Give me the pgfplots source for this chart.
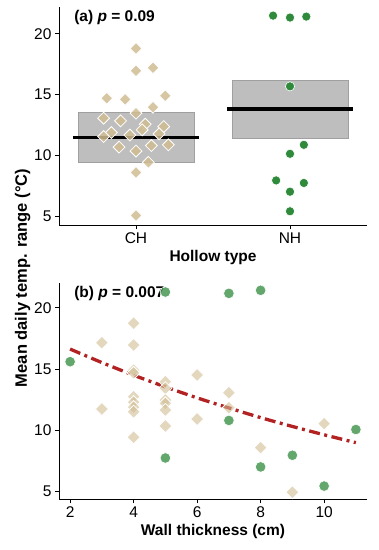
\documentclass[border=0pt]{standalone}
\usepackage{fontspec}
\setmainfont{Liberation Sans}
\usepackage{pgfplots}
\pgfplotsset{compat=1.18}
\definecolor{tanc}{RGB}{208,188,146}
\definecolor{grn}{RGB}{47,138,60}
\definecolor{boxg}{RGB}{190,190,190}
\definecolor{boxd}{RGB}{160,160,160}
\definecolor{trend}{RGB}{178,34,34}
\pgfplotsset{
  base/.style={
    scale only axis, width=308bp,
    axis x line*=bottom, axis y line*=left,
    axis line style={line width=1bp, black},
    tick align=outside, major tick length=4bp,
    tick style={black, line width=0.8bp},
    ticklabel style={font=\fontsize{15.5bp}{18bp}\selectfont},
    label style={font=\fontsize{15.5bp}{18bp}\selectfont\bfseries},
    /pgf/number format/assume math mode=true,
    ytick={5,10,15,20},
    clip=false,
  }
}
\begin{document}
\begin{tikzpicture}
\useasboundingbox (0,0) rectangle (379bp,-550bp);
% ---------- panel (a)
\begin{axis}[base, at={(59bp,-225bp)}, anchor=south west, height=218bp,
  xmin=0.5, xmax=2.5, ymin=4.26, ymax=22.2,
  xtick={1,2}, xticklabels={CH,NH}, xlabel={Hollow type}]
\addplot[fill=boxg, draw=boxd, line width=0.5bp] coordinates {(0.625,9.41) (1.375,9.41) (1.375,13.5) (0.625,13.5)} -- cycle;
\addplot[fill=boxg, draw=boxd, line width=0.5bp] coordinates {(1.625,11.41) (2.375,11.41) (2.375,16.19) (1.625,16.19)} -- cycle;
\addplot[black, line width=3.2bp] coordinates {(0.59,11.49) (1.41,11.49)};
\addplot[black, line width=3.2bp] coordinates {(1.59,13.81) (2.41,13.81)};
\addplot[only marks, mark=square*, mark size=4.2bp,
  mark options={rotate=45, fill=tanc, fill opacity=0.85, draw=white, line width=0.8bp}]
  coordinates {(1,18.79) (1,16.95) (1.11,17.2) (0.81,14.69) (0.93,14.6) (1.19,14.9)
  (1.11,13.95) (1,13.46) (0.79,13.05) (0.9,12.83) (1.06,12.56) (1.18,12.36)
  (1.04,12.09) (0.84,11.87) (0.79,11.54) (0.96,11.66) (1.15,11.76) (0.89,10.67)
  (1,10.34) (1.1,10.8) (1.21,10.86) (1.08,9.41) (1,8.59) (1,5.04)};
\addplot[only marks, mark=*, mark size=4.6bp,
  mark options={fill=grn, draw=white, line width=0.6bp}]
  coordinates {(1.89,21.49) (2,21.33) (2.106,21.41) (2,15.67) (2.09,10.86)
  (2,10.12) (1.91,7.93) (2.09,7.72) (2,7.0) (2,5.39)};
\node[anchor=west, font=\fontsize{15.5bp}{18bp}\selectfont\bfseries, inner sep=0pt]
  at (rel axis cs:0.049,0.954) {(a) \textit{p} = 0.09};
\end{axis}
% ---------- panel (b)
\begin{axis}[base, at={(59bp,-499.3bp)}, anchor=south west, height=216.6bp,
  xmin=1.65, xmax=11.35, ymin=4.38, ymax=22.04,
  xtick={2,4,6,8,10}, xlabel={Wall thickness (cm)}]
\addplot[only marks, mark=square*, mark size=4.6bp,
  mark options={rotate=45, fill=tanc, fill opacity=0.6, draw=white, line width=0.8bp}]
  coordinates {(3,17.15) (3,11.74) (4,18.73) (4,16.96) (4,14.9) (4,14.69) (4,12.75)
  (4,12.3) (4,11.9) (4,11.52) (4,9.44) (5,13.97) (5,13.43) (5,12.48) (5,12.2)
  (5,11.66) (5,10.36) (6,14.51) (6,10.93) (7,13.07) (7,11.85) (8,8.59) (9,4.96) (10,10.55)};
\addplot[trend, line width=3.3bp, dash pattern=on 11bp off 4.5bp on 3bp off 4.5bp, smooth]
  coordinates {(2,16.63) (3,15.53) (4,14.50) (5,13.55) (6,12.65) (7,11.83)
  (8,11.04) (9,10.32) (10,9.64) (11,9.00)};
\node[anchor=west, font=\fontsize{15.5bp}{18bp}\selectfont\bfseries, inner sep=0pt]
  at (rel axis cs:0.049,0.948) {(b) \textit{p} = 0.007};
\addplot[only marks, mark=*, mark size=5.3bp,
  mark options={fill=grn, fill opacity=0.75, draw=white, line width=0.6bp}]
  coordinates {(2,15.6) (5,21.28) (7,21.17) (8,21.42) (7,10.81) (11,10.07)
  (5,7.75) (9,7.97) (8,7.02) (10,5.46)};
\end{axis}
\node[rotate=90, font=\fontsize{16.5bp}{18bp}\selectfont\bfseries]
  at (22.7bp,-278bp) {Mean daily temp. range (°C)};
\end{tikzpicture}
\end{document}
